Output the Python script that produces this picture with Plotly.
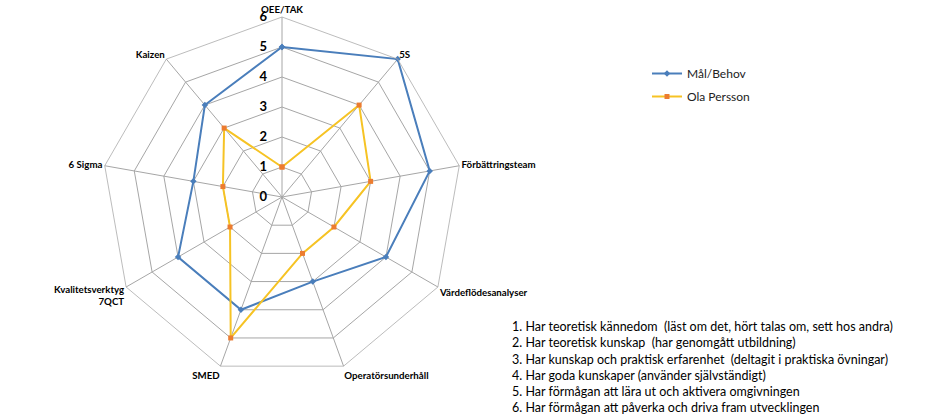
import plotly.graph_objects as go

categories = ["OEE/TAK", "5S", "Förbättringsteam", "Värdeflödesanalyser",
              "Operatörsunderhåll", "SMED", "Kvalitetsverktyg<br>7QCT",
              "6 Sigma", "Kaizen"]
mal_behov = [5, 6, 5, 4, 3, 4, 4, 3, 4]
ola_persson = [1, 4, 3, 2, 2, 5, 2, 2, 3]
radial_ticks = [0, 1, 2, 3, 4, 5, 6]
levels_text = [
    "1. Har teoretisk kännedom  (läst om det, hört talas om, sett hos andra)",
    "2. Har teoretisk kunskap  (har genomgått utbildning)",
    "3. Har kunskap och praktisk erfarenhet  (deltagit i praktiska övningar)",
    "4. Har goda kunskaper (använder självständigt)",
    "5. Har förmågan att lära ut och aktivera omgivningen",
    "6. Har förmågan att påverka och driva fram utvecklingen",
]

W, H = 940, 420
cx, cy, R = 282, 197, 180
FONT = "Lato"
GRID = "#a6a6a6"

fig = go.Figure()
fig.add_trace(go.Scatterpolar(
    r=mal_behov + [mal_behov[0]], theta=categories + [categories[0]],
    mode="lines+markers", name="Mål/Behov", legendgroup="a",
    line=dict(color="#4a7ebb", width=2),
    marker=dict(symbol="diamond", size=5, color="#4a7ebb"),
))
fig.add_trace(go.Scatterpolar(
    r=ola_persson + [ola_persson[0]], theta=categories + [categories[0]],
    mode="lines+markers", name="Ola Persson", legendgroup="b",
    line=dict(color="#f6c324", width=2),
    marker=dict(symbol="square", size=5, color="#ec7c30"),
))

fig.update_layout(
    width=W, height=H,
    margin=dict(l=0, r=0, t=0, b=0),
    paper_bgcolor="white",
    font=dict(family=FONT, color="black"),
    polar=dict(
        domain=dict(x=[(cx - R) / W, (cx + R) / W],
                    y=[(H - cy - R) / H, (H - cy + R) / H]),
        bgcolor="white",
        gridshape="linear",
        angularaxis=dict(
            rotation=90, direction="clockwise",
            tickfont=dict(size=9.7, family=FONT, weight="bold", color="black"),
            gridcolor=GRID, gridwidth=0.75,
            linecolor=GRID, linewidth=0.75, showline=True, ticks="",
        ),
        radialaxis=dict(
            range=[0, 6], tickvals=radial_ticks, angle=90, tickangle=90,
            side="counterclockwise",
            tickfont=dict(size=13, family=FONT, weight="bold", color="black"),
            gridcolor=GRID, gridwidth=0.75, showline=False,
            ticks="outside", ticklen=10, tickcolor="rgba(0,0,0,0)",
        ),
    ),
    showlegend=True,
    legend=dict(
        x=(688 - 41) / W, y=1 - 59 / H,
        xanchor="left", yanchor="top",
        font=dict(size=12, family=FONT, color="#222"),
        tracegroupgap=4, itemwidth=30, bgcolor="rgba(0,0,0,0)",
    ),
)

fig.add_annotation(
    x=510 / W, y=1 - 317 / H, xref="paper", yref="paper",
    xanchor="left", yanchor="top", align="left", showarrow=False,
    text="<br>".join(levels_text),
    font=dict(size=12.5, family=FONT, color="black"),
)

fig.write_html("out.html", config={"displayModeBar": False},
               post_script="document.body.style.margin='0';")
